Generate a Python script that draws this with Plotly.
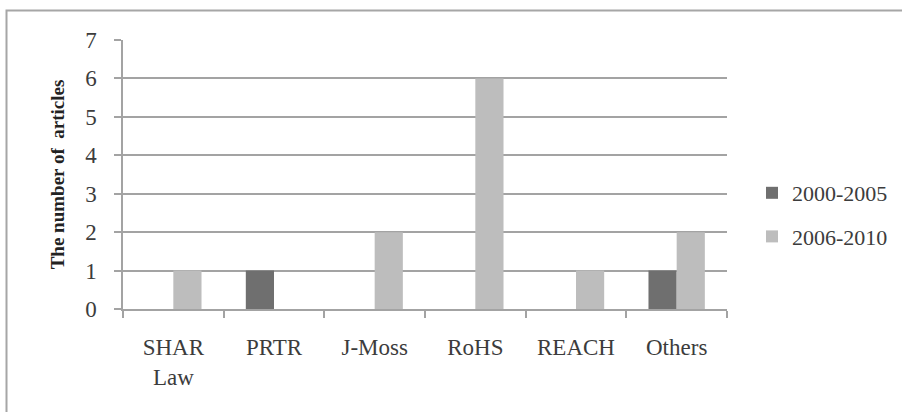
import plotly.graph_objects as go

# Chart data
categories = ["SHAR<br>Law", "PRTR", "J-Moss", "RoHS", "REACH", "Others"]
series_names = ["2000-2005", "2006-2010"]
values_2000_2005 = [0, 1, 0, 0, 0, 1]
values_2006_2010 = [1, 0, 2, 6, 1, 2]
y_ticks = [0, 1, 2, 3, 4, 5, 6, 7]

colors = ["#6f6f6f", "#bdbdbd"]
grid_color = "#a3a3a3"
text_color = "#3c3c3c"
font_family = "Liberation Serif"

W, H = 902, 412
L, R, T, B = 123, 175, 40, 103

fig = go.Figure()
for name, vals, col in zip(series_names, [values_2000_2005, values_2006_2010], colors):
    fig.add_trace(go.Bar(
        x=categories, y=vals, name=name, legendgroup=name,
        marker=dict(color=col, line=dict(width=0)),
    ))

# outer chart frame (left and top edges visible)
pw, ph = W - L - R, H - T - B
def px_x(v):
    return (v - L) / pw
def px_y(v):
    return (H - B - v) / ph

fig.add_shape(type="rect", xref="paper", yref="paper",
              x0=px_x(6.5), x1=px_x(W + 10), y0=px_y(H + 10), y1=px_y(10.5),
              line=dict(color="#a6a6a6", width=2), fillcolor="rgba(0,0,0,0)",
              layer="below")

fig.update_layout(
    width=W, height=H,
    margin=dict(l=L, r=R, t=T, b=B, autoexpand=False),
    paper_bgcolor="white", plot_bgcolor="white",
    barmode="group", bargap=0.44, bargroupgap=0,
    font=dict(family=font_family, color=text_color, size=22),
    showlegend=True,
    legend=dict(
        x=px_x(752), y=px_y(172), xanchor="left", yanchor="top",
        font=dict(size=22, family=font_family, color=text_color),
        tracegroupgap=12, bgcolor="rgba(0,0,0,0)",
        itemwidth=30,
    ),
    xaxis=dict(
        showline=True, linecolor=grid_color, linewidth=1.5,
        ticks="outside", ticklen=7, tickcolor=grid_color, tickwidth=1.5,
        tickson="boundaries", showgrid=False,
        ticklabelstandoff=17,
        tickfont=dict(size=23, family=font_family, color=text_color),
    ),
    yaxis=dict(
        range=[0, 7], tickvals=y_ticks,
        showline=True, linecolor=grid_color, linewidth=1.5,
        ticks="outside", ticklen=7, tickcolor=grid_color, tickwidth=1.5,
        showgrid=True, gridcolor=grid_color, gridwidth=1.5,
        zeroline=False,
        ticklabelstandoff=13,
        tickfont=dict(size=23, family=font_family, color=text_color),
        title=dict(text="<b>The number of  articles</b>",
                   font=dict(size=19, family=font_family, color="#222222"),
                   standoff=16),
    ),
)

fig.write_html("out.html")
